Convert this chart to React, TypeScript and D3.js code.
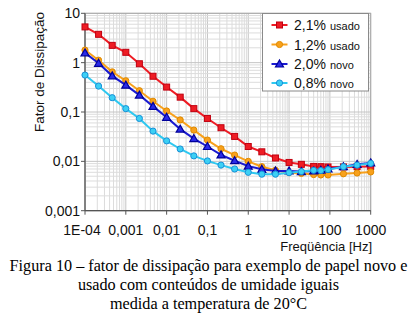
import React from "react";
import * as d3 from "d3";

const freqs = [1e-4, 2.15e-4, 4.64e-4, 1e-3, 2.15e-3, 4.64e-3, 1e-2, 2.15e-2, 4.64e-2, 0.1, 0.215, 0.464, 1, 2.15, 4.64, 10, 20, 40, 60, 90, 215, 464, 1000];

const red21 = [5.3, 3.75, 2.24, 1.62, 0.95, 0.53, 0.32, 0.2, 0.117, 0.074, 0.048, 0.032, 0.020, 0.0156, 0.0117, 0.0095, 0.0087, 0.0079, 0.0078, 0.0077, 0.0077, 0.0078, 0.0079];
const orange12 = [1.8, 1.12, 0.65, 0.43, 0.27, 0.165, 0.105, 0.069, 0.043, 0.027, 0.018, 0.0134, 0.0100, 0.0078, 0.0066, 0.0059, 0.0057, 0.0054, 0.0053, 0.0053, 0.0056, 0.0058, 0.0061];
const blue20 = [1.58, 0.97, 0.54, 0.35, 0.22, 0.13, 0.078, 0.045, 0.029, 0.020, 0.0135, 0.0103, 0.0080, 0.0069, 0.0064, 0.0064, 0.0062, 0.0064, 0.0066, 0.0070, 0.0078, 0.0087, 0.0093];
const cyan08 = [0.56, 0.335, 0.195, 0.117, 0.074, 0.041, 0.026, 0.0178, 0.0129, 0.0102, 0.0084, 0.0070, 0.0060, 0.0055, 0.0055, 0.0059, 0.0062, 0.0066, 0.0065, 0.0068, 0.0078, 0.0084, 0.0091];

const seriesNames = ["2,1%", "1,2%", "2,0%", "0,8%"];
const seriesSuffix = ["usado", "usado", "novo", "novo"];
const xTickVals = [1e-4, 1e-3, 1e-2, 1e-1, 1, 10, 100, 1000];
const xTickLabels = ["1E-04", "0,001", "0,01", "0,1", "1", "10", "100", "1000"];
const yTickVals = [10, 1, 0.1, 0.01, 0.001];
const yTickLabels = ["10", "1", "0,1", "0,01", "0,001"];
const caption = [
  "Figura 10 – fator de dissipação para exemplo de papel novo e",
  "usado com conteúdos de umidade iguais",
  "medida a temperatura de 20°C",
];

const styles = [
  { line: "#ee1c24", fill: "#ee1c24", stroke: "#c00010", shape: "square" },
  { line: "#f8a11c", fill: "#f8a11c", stroke: "#e08a00", shape: "circle" },
  { line: "#1a1ad0", fill: "#2a2ae8", stroke: "#00009a", shape: "triangle" },
  { line: "#2ec8f0", fill: "#3cd0f4", stroke: "#1890d8", shape: "circle" },
];

const X0 = 85, X1 = 370.7, Y0 = 13.3, Y1 = 210.7;

function Marker({ shape, x, y, fill, stroke }: any) {
  if (shape === "square") return <rect x={x - 3} y={y - 3} width={6} height={6} fill={fill} stroke={stroke} strokeWidth={1} />;
  if (shape === "triangle") {
    const p = `${x},${y - 4} ${x + 4},${y + 3} ${x - 4},${y + 3}`;
    return <polygon points={p} fill={fill} stroke={stroke} strokeWidth={1.2} />;
  }
  return <circle cx={x} cy={y} r={3.1} fill={fill} stroke={stroke} strokeWidth={1} />;
}

export default function App() {
  const x = d3.scaleLog().domain([1e-4, 1000]).range([X0, X1]);
  const y = d3.scaleLog().domain([0.001, 10]).range([Y1, Y0]);
  const data = [red21, orange12, blue20, cyan08];
  const line = d3.line<number>().x((_, i) => x(freqs[i])).y((d) => y(d));

  const isMajor = (v: number) => Math.abs(Math.log10(v) - Math.round(Math.log10(v))) < 1e-6;
  const xMinor: number[] = [];
  for (let e = -4; e < 3; e++) for (let k = 1; k <= 9; k++) xMinor.push(k * Math.pow(10, e));
  xMinor.push(1000);
  const yMinor: number[] = [];
  for (let e = -3; e < 1; e++) for (let k = 1; k <= 9; k++) yMinor.push(k * Math.pow(10, e));
  yMinor.push(10);

  const sans = "'Liberation Sans', Arial, sans-serif";
  const legY = [25, 44.5, 64, 83];

  return (
    <svg width={417} height={330} style={{ position: "absolute", left: 0, top: 0, background: "#fff" }}>
      <rect x={0} y={0} width={417} height={330} fill="#fff" />
      {xMinor.map((v, i) => (
        <line key={"gx" + i} x1={x(v)} x2={x(v)} y1={Y0} y2={Y1} stroke={isMajor(v) ? "#c4c4c4" : "#dcdcdc"} strokeWidth={1} />
      ))}
      {yMinor.map((v, i) => (
        <line key={"gy" + i} x1={X0} x2={X1} y1={y(v)} y2={y(v)} stroke={isMajor(v) ? "#c4c4c4" : "#dcdcdc"} strokeWidth={1} />
      ))}
      <rect x={X0} y={Y0} width={X1 - X0} height={Y1 - Y0} fill="none" stroke="#a8a8a8" strokeWidth={1} />
      <line x1={X0} x2={X0} y1={Y0} y2={Y1} stroke="#555" strokeWidth={1.2} />
      <line x1={X0} x2={X1} y1={Y1} y2={Y1} stroke="#555" strokeWidth={1.2} />
      {yTickVals.map((v, i) => (
        <g key={"yt" + i}>
          <line x1={X0 - 4} x2={X0} y1={y(v)} y2={y(v)} stroke="#555" />
          <text x={X0 - 5} y={y(v) + 5} textAnchor="end" fontFamily={sans} fontSize={14} fill="#111">{yTickLabels[i]}</text>
        </g>
      ))}
      {xTickVals.map((v, i) => (
        <g key={"xt" + i}>
          <line x1={x(v)} x2={x(v)} y1={Y1} y2={Y1 + 4} stroke="#555" />
          <text x={i === 0 ? x(v) - 3 : x(v)} y={235} textAnchor="middle" fontFamily={sans} fontSize={14} fill="#111">{xTickLabels[i]}</text>
        </g>
      ))}
      <text transform="translate(44,72) rotate(-90)" textAnchor="middle" fontFamily={sans} fontSize={13.5} fill="#111">Fator de Dissipação</text>
      <text x={372} y={251} textAnchor="end" fontFamily={sans} fontSize={13} fill="#111">Freqüência [Hz]</text>
      {data.map((s, si) => (
        <g key={"s" + si}>
          <path d={line(s) || ""} fill="none" stroke={styles[si].line} strokeWidth={2} />
          {s.map((v, i) => (
            <Marker key={i} shape={styles[si].shape} x={x(freqs[i])} y={y(v)} fill={styles[si].fill} stroke={styles[si].stroke} />
          ))}
        </g>
      ))}
      <rect x={262.5} y={13.5} width={106} height={77.5} fill="#fff" stroke="#8a8a8a" strokeWidth={1} />
      {seriesNames.map((n, i) => (
        <g key={"lg" + i}>
          <line x1={271.5} x2={287.5} y1={legY[i]} y2={legY[i]} stroke={styles[i].line} strokeWidth={2} />
          <Marker shape={styles[i].shape} x={279.5} y={legY[i]} fill={styles[i].fill} stroke={styles[i].stroke} />
          <text x={294} y={legY[i] + 5} fontFamily={sans} fontSize={14} fill="#111">
            {n}
            <tspan dx={4} fontSize={11}>{seriesSuffix[i]}</tspan>
          </text>
        </g>
      ))}
      {caption.map((c, i) => (
        <text key={"c" + i} x={208.5} y={271 + i * 19} textAnchor="middle" fontFamily="'Liberation Serif', 'Times New Roman', serif" fontSize={16.2} fill="#000">{c}</text>
      ))}
    </svg>
  );
}
